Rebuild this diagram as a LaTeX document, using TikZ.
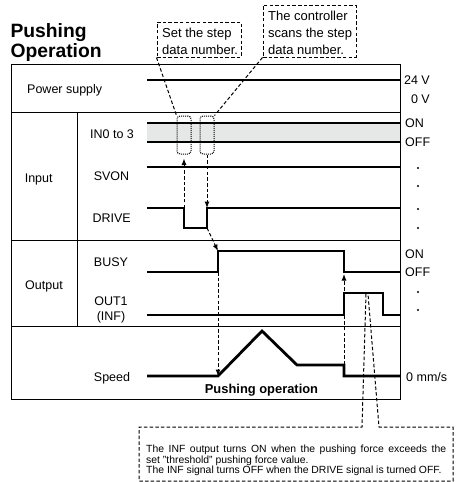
\documentclass[tikz,border=0pt]{standalone}
\usepackage{fontspec}
\setmainfont{Liberation Sans}
\usetikzlibrary{arrows.meta}
\definecolor{bandgray}{HTML}{E6E7E7}
\begin{document}
\begin{tikzpicture}[x=1pt,y=-1pt,
  sig/.style={line width=2.8pt, line join=miter},
  frameline/.style={line width=1pt},
  lbl/.style={inner sep=0pt, font=\fontsize{12.5}{15}\selectfont},
  clbl/.style={inner sep=0pt, align=left, font=\fontsize{13}{17}\selectfont},
  ilbl/.style={inner sep=0pt, font=\fontsize{10.4}{10.5}\selectfont},
  dline/.style={dash pattern=on 3.5pt off 2.2pt, line width=1pt},
  darrow/.style={dline, -{Latex[length=6.5pt,width=5pt]}},
  dotbox/.style={draw, densely dotted, rounded corners=3pt, line width=1pt, minimum width=14pt, minimum height=38pt, inner sep=0pt},
  callout/.style={draw, dline, inner sep=0pt},
  dotmark/.style={fill=black}
]
\useasboundingbox (0,0) rectangle (457,482);
% title
\node[anchor=base west, inner sep=0pt, font=\bfseries\fontsize{19.3}{20}\selectfont] (t1) at (10.3,37) {Pushing};
\node[anchor=base west, inner sep=0pt, font=\bfseries\fontsize{19.3}{20}\selectfont] (t2) at (10.3,57) {Operation};
% frame
\draw[frameline] (11,64) rectangle (400,399);
\draw[frameline] (11,112) -- (400,112);
\draw[frameline] (11,240) -- (400,240);
\draw[frameline] (11,326) -- (400,326);
\draw[frameline] (77,112) -- (77,326);
% labels
\node[lbl, anchor=base west] (ps) at (27,93.5) {Power supply};
\node[lbl, anchor=base] (in03) at (112,138.5) {IN0 to 3};
\node[lbl, anchor=base] (svon) at (111.5,180.5) {SVON};
\node[lbl, anchor=base] (drive) at (111.7,222.5) {DRIVE};
\node[lbl, anchor=base] (input) at (38.7,182.5) {Input};
\node[lbl, anchor=base] (busy) at (111,266.5) {BUSY};
\node[lbl, anchor=base] (out1) at (111,305) {OUT1};
\node[lbl, anchor=base] (inf) at (111,320.5) {(INF)};
\node[lbl, anchor=base] (output) at (44,289.5) {Output};
\node[lbl, anchor=base] (speed) at (112,381) {Speed};
\node[lbl, anchor=base east] (v24) at (430,84.5) {24 V};
\node[lbl, anchor=base east] (v0) at (430,103.5) {0 V};
\node[lbl, anchor=base west] (on1) at (405,127.5) {ON};
\node[lbl, anchor=base west] (off1) at (405,146.5) {OFF};
\node[lbl, anchor=base west] (on2) at (405,258.5) {ON};
\node[lbl, anchor=base west] (off2) at (405,276.5) {OFF};
\node[lbl, anchor=base west] (mms) at (406,381.5) {0 mm/s};
\node[inner sep=0pt, anchor=base, font=\bfseries\fontsize{12.9}{15}\selectfont] (pushop) at (261.5,393.6) {Pushing operation};
% dots
\foreach \yy in {168,186,209,228,292,310} \fill[dotmark] (418,\yy) circle (1.1pt);
% signals
\draw[sig] (147,80) -- (400,80);
\fill[bandgray] (147,123) rectangle (400,142);
\draw[sig] (147,123) -- (400,123);
\draw[sig] (147,142) -- (400,142);
\draw[sig] (147,167) -- (400,167);
\coordinate (drvF) at (184,208);
\coordinate (drvLR) at (207,228);
\coordinate (drvR) at (207,208);
\draw[sig] (147,208) -- (drvF) -- (184,228) -- (drvLR) -- (drvR) -- (400,208);
\coordinate (busyL) at (218,272);
\coordinate (busyR) at (218,251);
\coordinate (busyF) at (344,251);
\coordinate (busyOff) at (344,274);
\draw[sig] (147,272) -- (busyL) -- (busyR) -- (busyF) -- (344,272) -- (400,272);
\draw[sig] (147,315) -- (344,315) -- (344,293) -- (383,293) -- (383,315) -- (400,315);
\coordinate (spdS) at (218,376);
\coordinate (spdD) at (344,376);
\draw[sig] (147,376) -- (spdS) -- (262,331) -- (297,365) -- (344,365) -- (spdD) -- (400,376);
% dotted boxes
\node[dotbox] (db1) at (184,135) {};
\node[dotbox] (db2) at (207,135) {};
% callouts
\node[callout, minimum width=84pt, minimum height=35pt] (coA) at (199,39.5) {};
\node[clbl, anchor=base west] (coAt) at (162,54.5) {Set the step\\data number.};
\node[callout, minimum width=93pt, minimum height=52pt] (coB) at (309.5,31) {};
\node[clbl, anchor=base west] (coBt) at (268,54.5) {The controller\\scans the step\\data number.};
\draw[dline] (coA.south west) -- (db1.north west);
\draw[dline] (coB.south west) -- (db2.north east);
% arrows
\draw[darrow] (drvF) -- ([yshift=-4pt]db1.south);
\draw[darrow] (db2.south) -- (drvR);
\draw[darrow] (drvLR) -- (busyR);
\draw[darrow] (busyL) -- (spdS);
\draw[darrow] (spdD) -- (busyOff);
% INF callout
\coordinate (infA) at (366,294);
\coordinate (infB) at (368,294);
\draw[dline] (infA) -- (362,427) -- (139,427) -- (139,481) -- (453,481) -- (453,427) -- (379,427) -- (infB);
\node[ilbl, anchor=base west] (inf1) at (146,452.5) {\makebox[300pt][s]{The INF output turns ON when the pushing force exceeds the}};
\node[ilbl, anchor=base west] (inf2) at (146,463) {set "threshold" pushing force value.};
\node[ilbl, anchor=base west] (inf3) at (146,473.5) {The INF signal turns OFF when the DRIVE signal is turned OFF.};
\end{tikzpicture}
\end{document}
